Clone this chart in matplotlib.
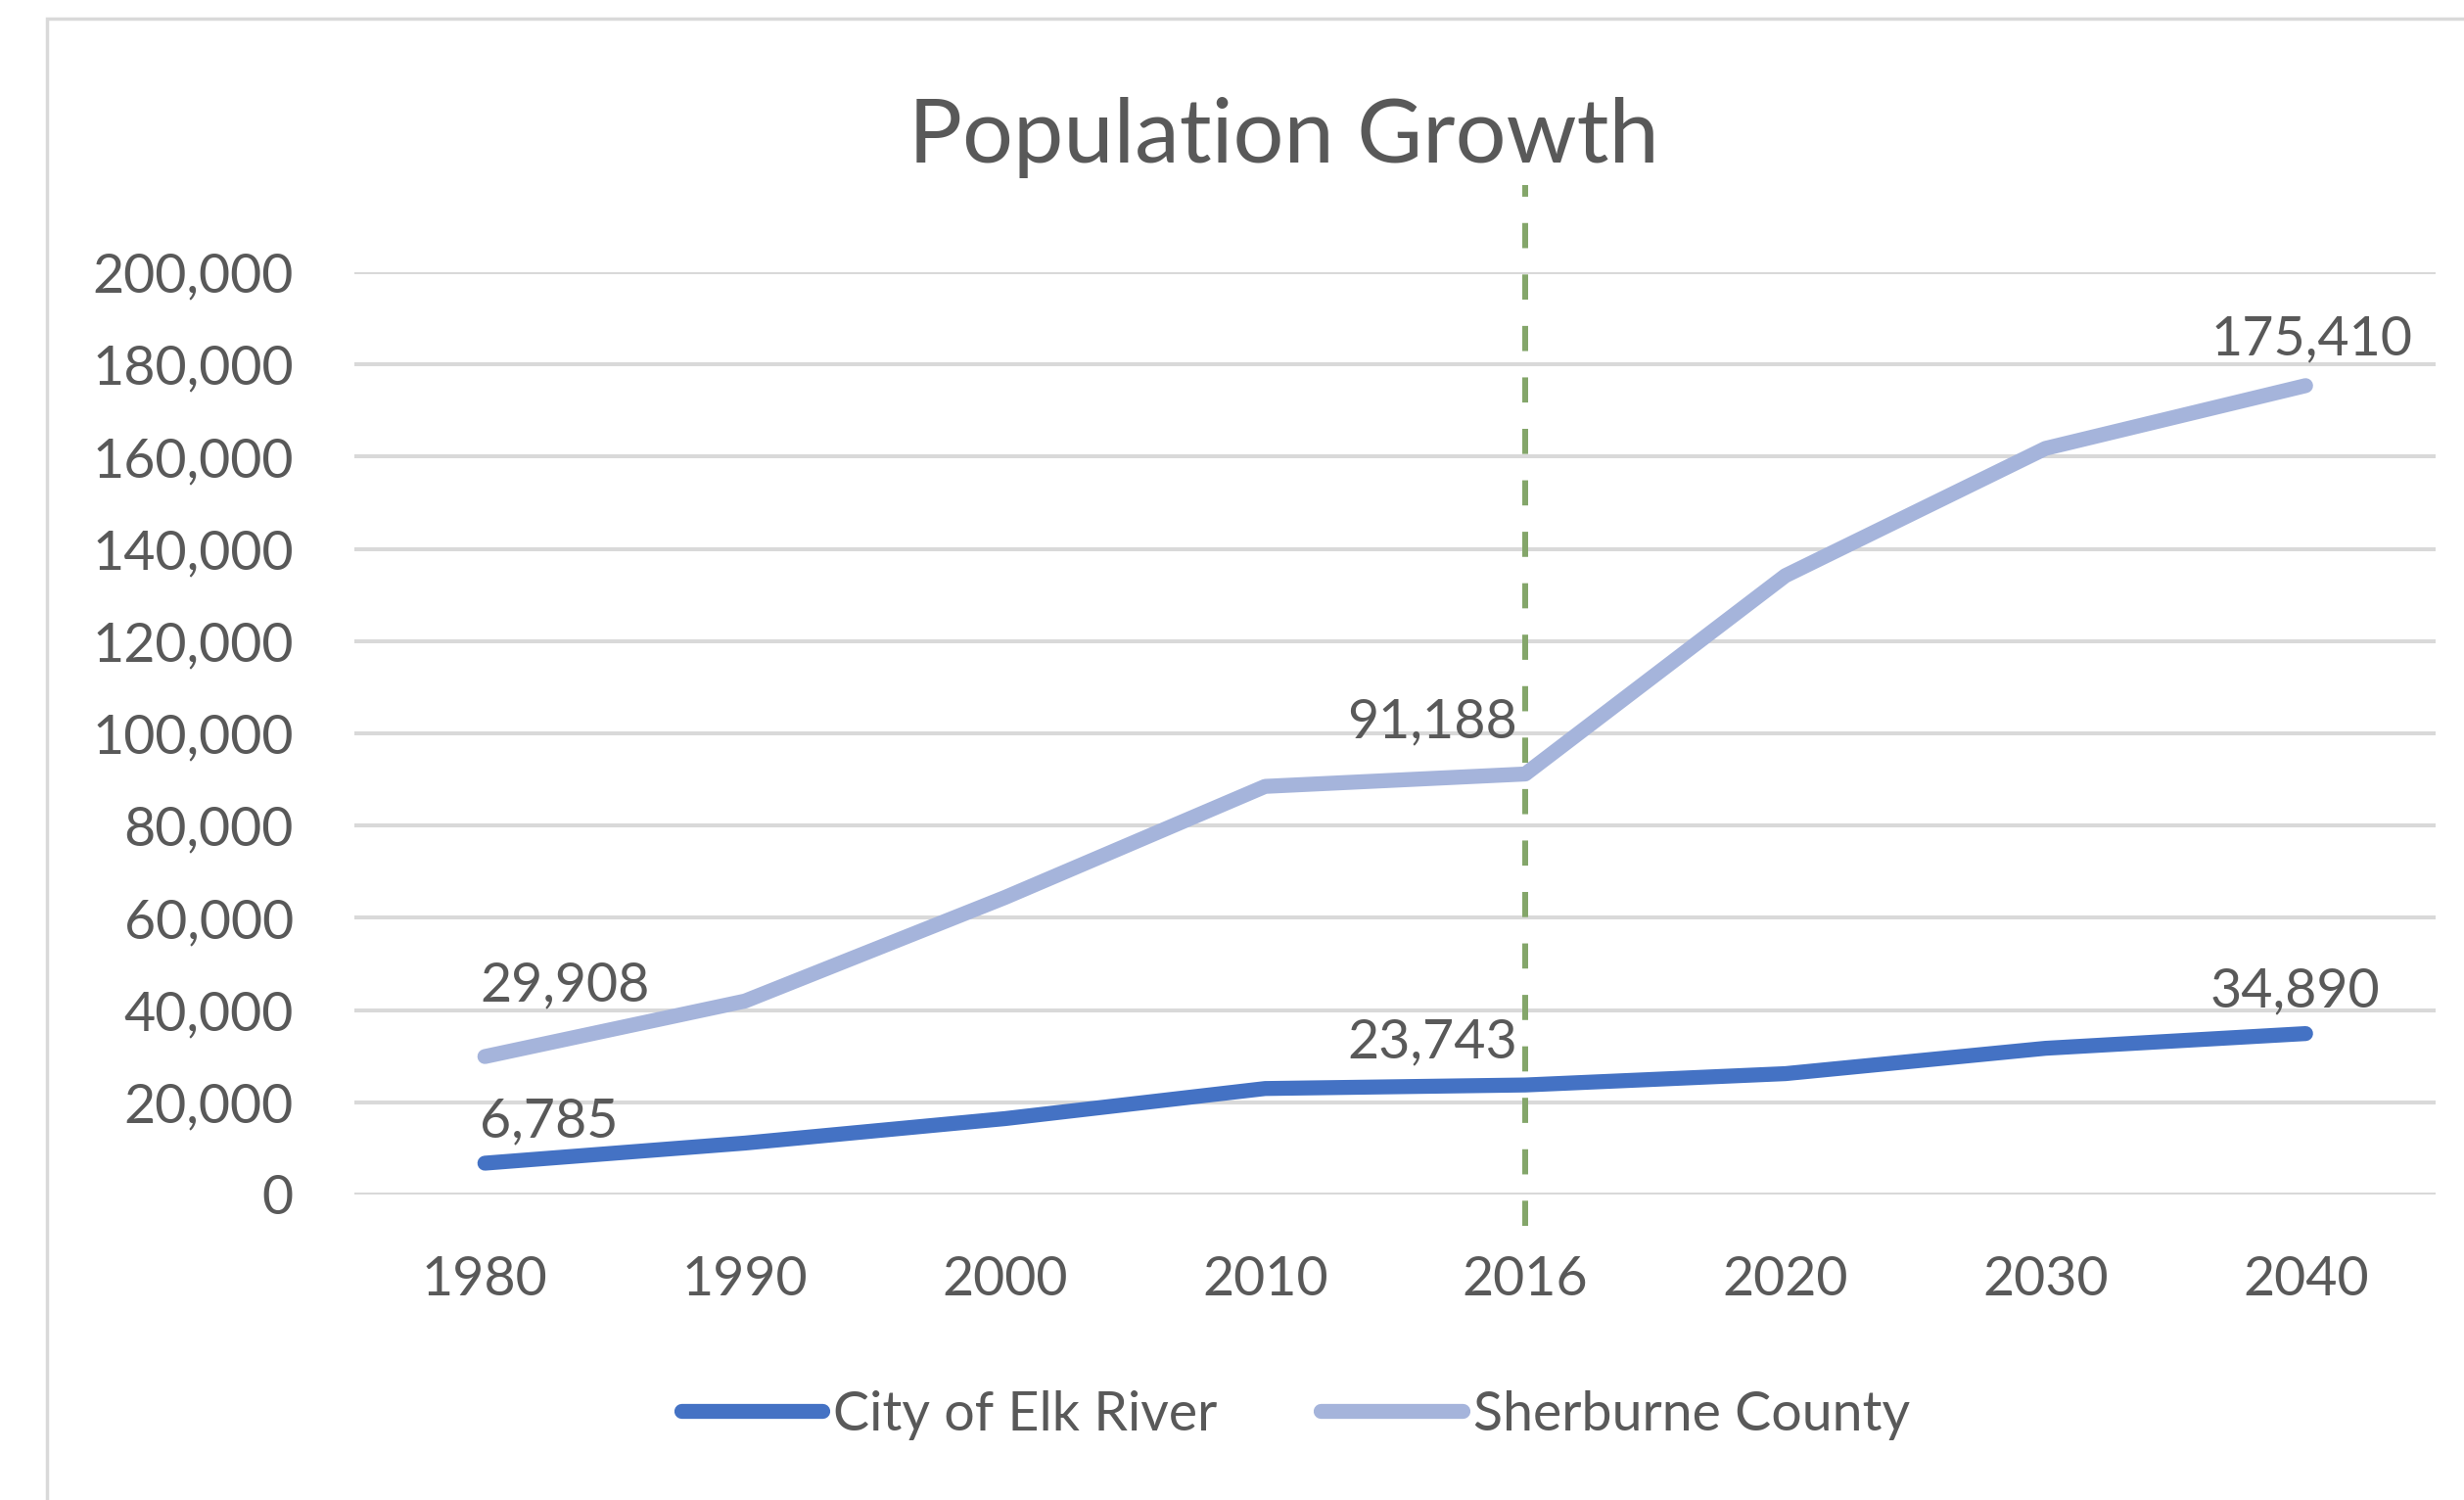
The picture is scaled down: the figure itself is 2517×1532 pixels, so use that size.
import matplotlib.pyplot as plt
from matplotlib.patches import Rectangle
from matplotlib.ticker import FuncFormatter

plt.rcParams['font.family'] = ['Lato', 'DejaVu Sans']

years = ['1980', '1990', '2000', '2010', '2016', '2020', '2030', '2040']
elk_river = [6785, 11143, 16447, 22974, 23743, 26200, 31700, 34890]
sherburne = [29908, 41945, 64417, 88499, 91188, 134200, 161800, 175410]

# which points get a value label, and how it sits (dx px, dy px, ha)
elk_labels = {0: (-5, 42, 'left'), 4: (-8, 43, 'right'), 7: (-11, 43, 'center')}
sher_labels = {0: (-5, 72, 'left'), 4: (-8, 53, 'right'), 7: (6, 47, 'center')}

text_col = '#595959'
dark_blue = '#4472C4'
light_blue = '#A5B4DB'
fs = 40

fig = plt.figure(figsize=(25.17, 15.32), dpi=100)
ax = fig.add_axes([0.144, 0.2037, 0.9885 - 0.144, 0.8185 - 0.2037])

# chart border (left/top visible)
fig.patches.append(Rectangle((48 / 2517, -0.1), 1.2, 1 - 19 / 1532 + 0.1,
                             transform=fig.transFigure, fill=False,
                             edgecolor='#D9D9D9', linewidth=2.5))

x = list(range(len(years)))
ax.plot(x, elk_river, color=dark_blue, lw=11, solid_capstyle='round',
        solid_joinstyle='round', label='City of Elk River', zorder=3)
ax.plot(x, sherburne, color=light_blue, lw=11, solid_capstyle='round',
        solid_joinstyle='round', label='Sherburne County', zorder=3)

ax.axvline(4, ymin=-0.034, ymax=1.0945, color='#84A66A', lw=4.3,
           dashes=(4.3, 4.5), clip_on=False, zorder=4)

for series, labels in ((elk_river, elk_labels), (sherburne, sher_labels)):
    for i, (dx, dy, ha) in labels.items():
        ax.annotate(f'{series[i]:,}', (x[i], series[i]),
                    xytext=(dx * 0.72, dy * 0.72), textcoords='offset points',
                    ha=ha, va='center', fontsize=fs, color=text_col, zorder=5)

ax.set_xlim(-0.5, 7.5)
ax.set_ylim(0, 200000)
ax.set_yticks(range(0, 200001, 20000))
ax.yaxis.set_major_formatter(FuncFormatter(lambda v, p: f'{int(v):,}'))
ax.set_xticks(x)
ax.set_xticklabels(years)
ax.tick_params(axis='both', length=0, labelsize=fs, labelcolor=text_col)
ax.tick_params(axis='y', pad=45)
ax.tick_params(axis='x', pad=45)
ax.grid(axis='y', color='#D9D9D9', lw=2.9)
ax.set_axisbelow(True)
for s in ax.spines.values():
    s.set_visible(False)

fig.text(0.521, 1 - 141 / 1532, 'Population Growth', ha='center', va='center',
         fontsize=66, color=text_col)

fig.legend(loc='center', bbox_to_anchor=(0.5257, 0.0565), ncol=2, frameon=False,
           fontsize=fs, labelcolor=text_col, handlelength=2.6,
           handletextpad=0.2, columnspacing=1.9)

fig.savefig('out.png', dpi=100, facecolor='white')
